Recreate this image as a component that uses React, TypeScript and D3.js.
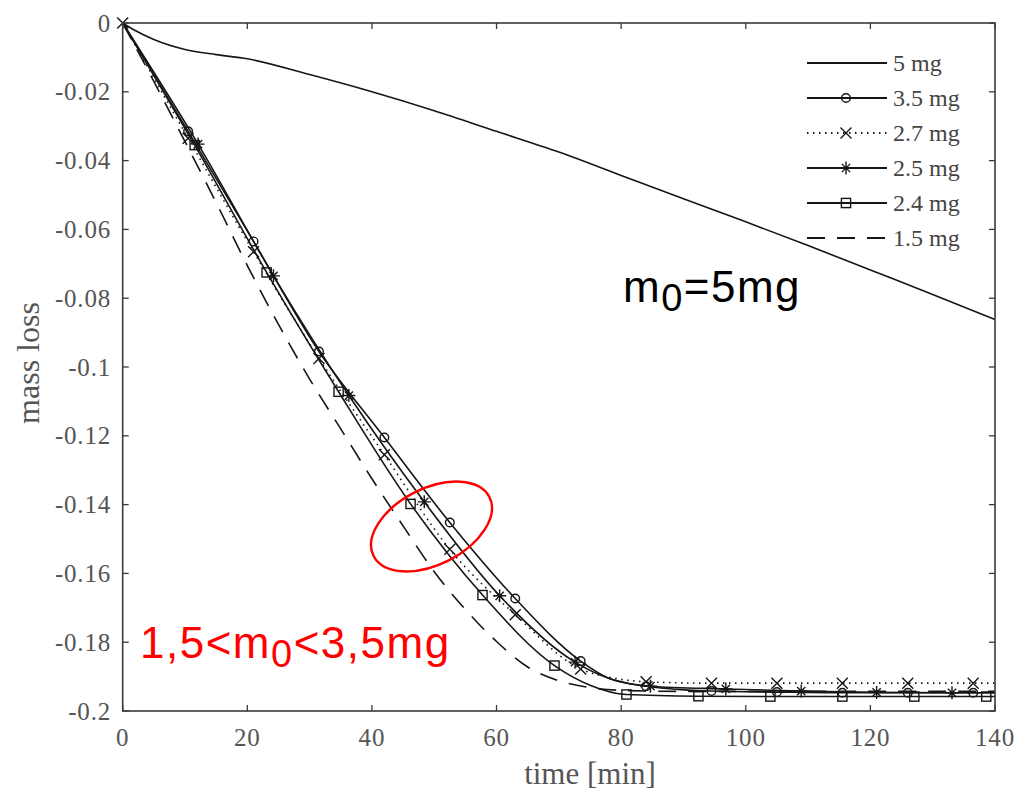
import React from "react";
import * as d3 from "d3";

// Time axis ticks [min] and mass-loss ticks
const xTicks = [0, 20, 40, 60, 80, 100, 120, 140];
const yTicks = [0, -0.02, -0.04, -0.06, -0.08, -0.1, -0.12, -0.14, -0.16, -0.18, -0.2];

// m0 = 5 mg
const t5 = [0, 2, 5, 10, 15, 20, 30, 40, 50, 60, 70, 80, 90, 100, 110, 120, 130, 140];
const v5 = [0, -0.0022, -0.0048, -0.0077, -0.0092, -0.0104, -0.0150, -0.0200, -0.0255, -0.0315, -0.0375, -0.0443, -0.0511, -0.0578, -0.0647, -0.0718, -0.0789, -0.0862];

// m0 = 3.5 mg (circle markers)
const t35 = [0, 10.5, 21, 31.5, 42, 52.5, 63, 73.5, 78, 84, 89, 94.5, 105, 115.5, 126, 136.5, 140];
const v35 = [0, -0.0315, -0.0635, -0.0955, -0.1205, -0.1452, -0.1673, -0.1855, -0.1905, -0.1928, -0.1937, -0.1942, -0.1945, -0.1947, -0.1947, -0.1947, -0.1947];
const mk35 = [10.5, 21, 31.5, 42, 52.5, 63, 73.5, 84, 94.5, 105, 115.5, 126, 136.5];

// m0 = 2.7 mg (dotted, x markers)
const t27 = [0, 10.5, 21, 31.5, 42, 52.5, 63, 73.5, 79, 84, 94.5, 105, 115.5, 126, 136.5, 140];
const v27 = [0, -0.0335, -0.0665, -0.0975, -0.1255, -0.1530, -0.1720, -0.1878, -0.1905, -0.1915, -0.1919, -0.1919, -0.1919, -0.1919, -0.1919, -0.1919];
const mk27 = [0, 10.5, 21, 31.5, 42, 52.5, 63, 73.5, 84, 94.5, 105, 115.5, 126, 136.5];

// m0 = 2.5 mg (asterisk markers)
const t25 = [0, 12.1, 24.2, 36.3, 48.4, 60.5, 72.6, 78, 84.7, 96.8, 108.9, 121, 133.1, 140];
const v25 = [0, -0.0352, -0.0735, -0.1083, -0.1392, -0.1665, -0.1858, -0.1905, -0.1928, -0.1936, -0.1942, -0.1946, -0.1947, -0.1947];
const mk25 = [12.1, 24.2, 36.3, 48.4, 60.5, 72.6, 84.7, 96.8, 108.9, 121, 133.1];

// m0 = 2.4 mg (square markers)
const t24 = [0, 11.55, 23.1, 34.65, 46.2, 57.75, 69.3, 75, 80.85, 92.4, 103.95, 115.5, 127.05, 138.6, 140];
const v24 = [0, -0.0355, -0.0725, -0.1072, -0.1398, -0.1663, -0.1868, -0.1925, -0.1952, -0.1957, -0.1958, -0.1958, -0.1958, -0.1958, -0.1958];
const mk24 = [11.55, 23.1, 34.65, 46.2, 57.75, 69.3, 80.85, 92.4, 103.95, 115.5, 127.05, 138.6];

// m0 = 1.5 mg (dashed)
const t15 = [0, 5, 10, 15, 20, 25, 30, 35, 40, 45, 50, 55, 60, 65, 70, 75, 80, 90, 140];
const v15 = [0, -0.017, -0.0345, -0.0522, -0.0705, -0.0876, -0.1035, -0.118, -0.1325, -0.1462, -0.1595, -0.1705, -0.1798, -0.1872, -0.1912, -0.1932, -0.194, -0.1943, -0.1943];

const legendLabels = ["5 mg", "3.5 mg", "2.7 mg", "2.5 mg", "2.4 mg", "1.5 mg"];

type Marker = "none" | "circle" | "x" | "star" | "square";
interface Series {
  t: number[];
  v: number[];
  marks: number[];
  marker: Marker;
  dash?: string;
}

const series: Series[] = [
  { t: t5, v: v5, marks: [], marker: "none" },
  { t: t35, v: v35, marks: mk35, marker: "circle" },
  { t: t27, v: v27, marks: mk27, marker: "x", dash: "1.5,4.5" },
  { t: t25, v: v25, marks: mk25, marker: "star" },
  { t: t24, v: v24, marks: mk24, marker: "square" },
  { t: t15, v: v15, marks: [], marker: "none", dash: "18,12" },
];

const W = 1018;
const H = 795;
const left = 122.7;
const right = 995;
const top = 23;
const bottom = 711;

const x = d3.scaleLinear().domain([0, 140]).range([left, right]);
const y = d3.scaleLinear().domain([0, -0.2]).range([top, bottom]);

const ink = "#161616";

function MarkerGlyph({ kind, cx, cy }: { kind: Marker; cx: number; cy: number }) {
  const s = 5.5;
  const sw = 1.4;
  if (kind === "circle") {
    return <circle cx={cx} cy={cy} r={4.3} fill="none" stroke={ink} strokeWidth={sw} />;
  }
  if (kind === "square") {
    return <rect x={cx - 4.6} y={cy - 4.6} width={9.2} height={9.2} fill="none" stroke={ink} strokeWidth={sw} />;
  }
  if (kind === "x") {
    return (
      <path
        d={`M${cx - s},${cy - s}L${cx + s},${cy + s}M${cx - s},${cy + s}L${cx + s},${cy - s}`}
        stroke={ink}
        strokeWidth={sw}
      />
    );
  }
  if (kind === "star") {
    const d = s * 0.75;
    return (
      <path
        d={`M${cx},${cy - s - 1}L${cx},${cy + s + 1}M${cx - s - 1},${cy}L${cx + s + 1},${cy}M${cx - d},${cy - d}L${cx + d},${cy + d}M${cx - d},${cy + d}L${cx + d},${cy - d}`}
        stroke={ink}
        strokeWidth={sw}
      />
    );
  }
  return null;
}

export default function App() {
  const line = d3
    .line<[number, number]>()
    .x((d) => x(d[0]))
    .y((d) => y(d[1]))
    .curve(d3.curveMonotoneX);

  const tickFont = "'Liberation Serif', 'Times New Roman', serif";
  const sans = "'Liberation Sans', Arial, sans-serif";
  const legX0 = 807;
  const legX1 = 887;
  const legY0 = 63;
  const legStep = 35;

  return (
    <svg
      width={W}
      height={H}
      viewBox={`0 0 ${W} ${H}`}
      style={{ position: "absolute", left: 0, top: 0, background: "#fff" }}
    >
      <rect x={0} y={0} width={W} height={H} fill="#fff" />

      {/* curves */}
      {series.map((s, i) => {
        const pts = s.t.map((t, k) => [t, s.v[k]] as [number, number]);
        return (
          <g key={i}>
            <path
              d={line(pts) || ""}
              fill="none"
              stroke={ink}
              strokeWidth={1.6}
              strokeDasharray={s.dash}
            />
            {s.marks.map((mt, k) => {
              const idx = s.t.indexOf(mt);
              return <MarkerGlyph key={k} kind={s.marker} cx={x(mt)} cy={y(s.v[idx])} />;
            })}
          </g>
        );
      })}

      {/* frame */}
      <rect x={left} y={top} width={right - left} height={bottom - top} fill="none" stroke="#3a3a3a" strokeWidth={1.6} />

      {/* x ticks (inward, top and bottom) */}
      {xTicks.map((t) => (
        <g key={`xt${t}`}>
          <line x1={x(t)} x2={x(t)} y1={bottom} y2={bottom - 6} stroke="#3a3a3a" strokeWidth={1.3} />
          <line x1={x(t)} x2={x(t)} y1={top} y2={top + 6} stroke="#3a3a3a" strokeWidth={1.3} />
          <text
            x={x(t)}
            y={746}
            textAnchor="middle"
            fontFamily={tickFont}
            fontSize={25}
            letterSpacing={0.8}
            fill="#555"
          >
            {t}
          </text>
        </g>
      ))}

      {/* y ticks (inward, left and right) */}
      {yTicks.map((v) => (
        <g key={`yt${v}`}>
          <line x1={left} x2={left + 6} y1={y(v)} y2={y(v)} stroke="#3a3a3a" strokeWidth={1.3} />
          <line x1={right} x2={right - 6} y1={y(v)} y2={y(v)} stroke="#3a3a3a" strokeWidth={1.3} />
          <text
            x={111}
            y={y(v)}
            dy="0.34em"
            textAnchor="end"
            fontFamily={tickFont}
            fontSize={25}
            letterSpacing={0.8}
            fill="#555"
          >
            {v === 0 ? "0" : "-" + String(Math.abs(v))}
          </text>
        </g>
      ))}

      {/* axis titles */}
      <text x={590} y={784} textAnchor="middle" fontFamily={tickFont} fontSize={31} fill="#555">
        time [min]
      </text>
      <text
        transform={`translate(39,363) rotate(-90)`}
        textAnchor="middle"
        fontFamily={tickFont}
        fontSize={32}
        fill="#555"
      >
        mass loss
      </text>

      {/* legend */}
      {series.map((s, i) => {
        const ly = legY0 + i * legStep;
        return (
          <g key={`lg${i}`}>
            <line x1={legX0} x2={legX1} y1={ly} y2={ly} stroke={ink} strokeWidth={1.8} strokeDasharray={s.dash} />
            <MarkerGlyph kind={s.marker} cx={(legX0 + legX1) / 2 - 1} cy={ly} />
            <text x={893} y={ly} dy="0.33em" fontFamily={tickFont} fontSize={24} fill="#444">
              {legendLabels[i]}
            </text>
          </g>
        );
      })}

      {/* annotations */}
      <text x={623} y={302} fontFamily={sans} fontSize={44} letterSpacing={1.5} fill="#000">
        m<tspan fontSize={38} dy={9}>0</tspan>
        <tspan dy={-9}>=5mg</tspan>
      </text>
      <text x={140} y={658} fontFamily={sans} fontSize={44} letterSpacing={1.5} fill="#ff0000">
        1,5&lt;m<tspan fontSize={38} dy={9}>0</tspan>
        <tspan dy={-9}>&lt;3,5mg</tspan>
      </text>
      <ellipse
        cx={431.5}
        cy={526.5}
        rx={65}
        ry={38}
        transform={`rotate(-27,431.5,526.5)`}
        fill="none"
        stroke="#ff0000"
        strokeWidth={2.4}
      />
    </svg>
  );
}
